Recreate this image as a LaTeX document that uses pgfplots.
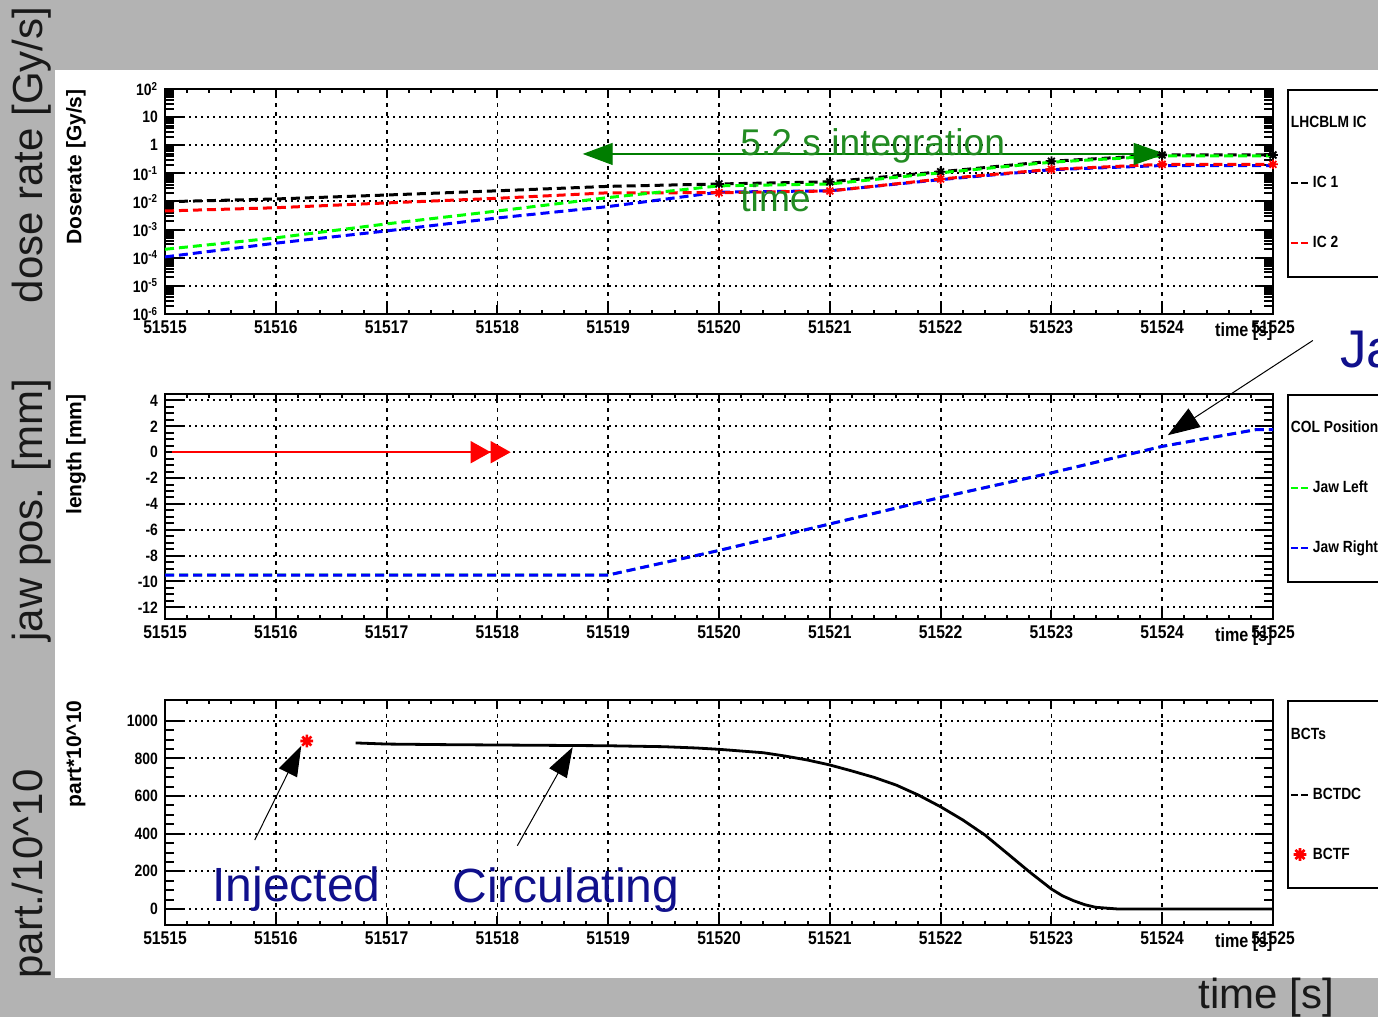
\documentclass[border=0pt]{standalone}
\usepackage{fontspec}
\setmainfont{Liberation Sans}
\newfontfamily\rootfont{Liberation Sans}[FakeStretch=0.85]
\usepackage{pgfplots}
\usepackage{pgfplotstable}
\pgfplotsset{compat=1.18}
\usetikzlibrary{arrows.meta}

\definecolor{slidegray}{RGB}{179,179,179}
\definecolor{slidetext}{RGB}{25,25,25}
\definecolor{annogreen}{RGB}{34,140,34}
\definecolor{arrowgreen}{RGB}{0,125,0}
\definecolor{annonavy}{RGB}{16,16,140}
\definecolor{rootgreen}{RGB}{0,255,0}
\definecolor{rootred}{RGB}{255,0,0}
\definecolor{rootblue}{RGB}{0,0,255}

\pgfdeclareplotmark{rootstar}{%
  \pgfpathmoveto{\pgfqpoint{0pt}{\pgfplotmarksize}}\pgfpathlineto{\pgfqpoint{0pt}{-\pgfplotmarksize}}%
  \pgfpathmoveto{\pgfqpoint{\pgfplotmarksize}{0pt}}\pgfpathlineto{\pgfqpoint{-\pgfplotmarksize}{0pt}}%
  \pgfpathmoveto{\pgfqpoint{0.707\pgfplotmarksize}{0.707\pgfplotmarksize}}\pgfpathlineto{\pgfqpoint{-0.707\pgfplotmarksize}{-0.707\pgfplotmarksize}}%
  \pgfpathmoveto{\pgfqpoint{-0.707\pgfplotmarksize}{0.707\pgfplotmarksize}}\pgfpathlineto{\pgfqpoint{0.707\pgfplotmarksize}{-0.707\pgfplotmarksize}}%
  \pgfusepathqstroke}

\pgfplotstableread{
t      ic1     ic2     gr        bl
51515  0.0098  0.0046  0.00020   0.000107
51516  0.0123  0.0060  0.00051   0.00033
51517  0.0170  0.0089  0.0016    0.00090
51518  0.0240  0.0130  0.0046    0.0026
51519  0.0345  0.0204  0.0138    0.0066
51520  0.042   0.0205  0.036     0.0215
51521  0.050   0.0236  0.042     0.024
51522  0.114   0.063   0.105     0.060
51523  0.27    0.139   0.25      0.135
51524  0.45    0.21    0.42      0.19
51525  0.45    0.21    0.42      0.19
}\doserate

\pgfplotstableread{
t        left   right
51515    -9.5   -9.5
51519    -9.5   -9.5
51520    -7.6   -7.6
51521    -5.55  -5.55
51522    -3.5   -3.5
51523    -1.6   -1.6
51524    0.45   0.45
51524.85 1.75   1.75
51525    1.75   1.75
}\jaw

\pgfplotstableread{
t        y
51516.72 882
51517.0  876
51517.5  873
51518.0  871
51518.5  869
51519.0  867
51519.5  862
51519.8  855
51520.0  848
51520.2  839
51520.4  830
51520.6  812
51520.8  791
51521.0  765
51521.2  733
51521.4  699
51521.6  658
51521.8  605
51522.0  543
51522.2  473
51522.4  393
51522.6  296
51522.8  198
51523.0  106
51523.1  70
51523.2  44
51523.3  23
51523.4  9
51523.6  0
51525.0  0
}\bctdc

\pgfplotstableread{
t        y
51516.28 892
}\bctf

\pgfplotsset{
  rootaxis/.style={
    scale only axis, width=554bp, height=112.5bp,
    xmin=51515, xmax=51525,
    xtick={51515,51516,51517,51518,51519,51520,51521,51522,51523,51524,51525},
    minor x tick num=4,
    scaled x ticks=false, scaled y ticks=false,
    xticklabel style={font=\rootfont\bfseries\fontsize{9.2bp}{10bp}\selectfont, /pgf/number format/.cd, fixed, precision=0, set thousands separator={}, assume math mode=true},
    yticklabel style={font=\rootfont\bfseries\fontsize{8.2bp}{9bp}\selectfont, /pgf/number format/.cd, set thousands separator={}, assume math mode=true},
    grid=major,
    major x grid style={black, line width=0.9bp, dash pattern=on 2bp off 2.5bp},
    major y grid style={black, line width=1bp, dash pattern=on 1bp off 2bp},
    axis line style={black, line width=1.3bp},
    tick style={black, line width=1bp},
    xtick style={/pgfplots/major tick length=4.5bp, /pgfplots/minor tick length=2.2bp},
    ytick style={/pgfplots/major tick length=9bp, /pgfplots/minor tick length=4.5bp},
    tick align=inside,
    clip=false,
    xlabel={time [s]},
    xlabel style={at={(axis description cs:1,0)}, anchor=north east, inner sep=0pt, yshift=-4bp, font=\rootfont\bfseries\fontsize{9.5bp}{11bp}\selectfont},
    ylabel style={at={(axis description cs:-0.0803,1)}, anchor=east, inner sep=0pt, font=\bfseries\fontsize{10.5bp}{12bp}\selectfont},
    legend style={at={(axis description cs:1.0126,1)}, anchor=north west, draw=black, line width=1bp, fill=white,
      font=\rootfont\bfseries\fontsize{8.1bp}{10bp}\selectfont,
      inner xsep=1bp, inner ysep=13bp, row sep=22.5bp, column sep=1.5bp,
      nodes={inner sep=0pt, text height=6bp, text depth=1.5bp}},
    legend cell align=left,
    legend image code/.code={\draw[mark repeat=2, mark phase=2, ##1] plot coordinates {(0bp,0bp) (4.5bp,0bp) (9bp,0bp)};},
  },
  legline/.style={line width=1bp, dash pattern=on 3.5bp off 1.5bp},
  dataline/.style={line width=1.5bp, dash pattern=on 4.5bp off 2.5bp},
}

\begin{document}
\begin{tikzpicture}
\path[use as bounding box] (0,0) rectangle (689bp,508.5bp);
\clip (0,0) rectangle (689bp,508.5bp);
\fill[slidegray] (0,0) rectangle (689bp,508.5bp);
\fill[white] (27.5bp,19.5bp) rectangle (689bp,473.5bp);

% ---------- top: dose rate ----------
\begin{axis}[rootaxis, at={(82.5bp,351.5bp)}, anchor=south west,
  ymode=log, ymin=1e-6, ymax=100,
  ytick={1e-6,1e-5,1e-4,1e-3,1e-2,1e-1,1,10,100},
  yticklabels={10\textsuperscript{-6},10\textsuperscript{-5},10\textsuperscript{-4},10\textsuperscript{-3},10\textsuperscript{-2},10\textsuperscript{-1},1,10,10\textsuperscript{2}},
  minor ytick={2e-6,3e-6,4e-6,5e-6,6e-6,7e-6,8e-6,9e-6,
    2e-5,3e-5,4e-5,5e-5,6e-5,7e-5,8e-5,9e-5,
    2e-4,3e-4,4e-4,5e-4,6e-4,7e-4,8e-4,9e-4,
    2e-3,3e-3,4e-3,5e-3,6e-3,7e-3,8e-3,9e-3,
    0.02,0.03,0.04,0.05,0.06,0.07,0.08,0.09,
    0.2,0.3,0.4,0.5,0.6,0.7,0.8,0.9,
    2,3,4,5,6,7,8,9,
    20,30,40,50,60,70,80,90},
  ylabel={Doserate [Gy/s]}]
\addplot[rootblue, dataline, forget plot] table[x=t,y=bl]{\doserate};
\addplot[rootred, dataline, forget plot] table[x=t,y=ic2]{\doserate};
\addplot[black, dataline, forget plot] table[x=t,y=ic1]{\doserate};
\addplot[rootgreen, dataline, forget plot] table[x=t,y=gr]{\doserate};
\addplot[only marks, black, mark=rootstar, mark size=2.4bp, line width=0.9bp, mark indices={6,7,8,9,10,11}, forget plot] table[x=t,y=ic1]{\doserate};
\addplot[only marks, rootred, mark=rootstar, mark size=2.4bp, line width=0.9bp, mark indices={6,7,8,9,10,11}, forget plot] table[x=t,y=ic2]{\doserate};
\draw[arrowgreen, line width=0.6bp, {Triangle[length=15bp,width=11bp]}-{Triangle[length=16bp,width=11bp]}] (axis cs:51518.77,0.49) -- (axis cs:51524.03,0.49);
\addlegendimage{empty legend}
\addlegendentry{\hspace*{-11bp}\makebox[60bp][l]{LHCBLM IC}}
\addlegendimage{black, legline}
\addlegendentry{IC 1}
\addlegendimage{rootred, legline}
\addlegendentry{IC 2}
\end{axis}

% ---------- middle: jaw positions ----------
\begin{axis}[rootaxis, at={(82.5bp,199bp)}, anchor=south west,
  ymin=-12.9, ymax=4.5, ytick={-12,-10,-8,-6,-4,-2,0,2,4}, minor y tick num=3,
  ylabel={length [mm]}]
\addplot[rootgreen, line width=1.3bp, dash pattern=on 4.5bp off 2.5bp, forget plot] table[x=t,y=left]{\jaw};
\addplot[rootblue, dataline, forget plot] table[x=t,y=right]{\jaw};
\draw[rootred, line width=0.8bp, -{Triangle[length=10bp,width=11bp]Triangle[length=10bp,width=11bp]}] (axis cs:51515.06,0) -- (axis cs:51518.12,0);
\draw[black, line width=0.5bp, -{Triangle[length=16bp,width=11bp]}] (axis cs:51525.36,8.64) -- (axis cs:51524.05,1.31);
\addlegendimage{empty legend}
\addlegendentry{\hspace*{-11bp}\makebox[60bp][l]{COL Positions}}
\addlegendimage{rootgreen, legline}
\addlegendentry{Jaw Left}
\addlegendimage{rootblue, legline}
\addlegendentry{Jaw Right}
\end{axis}

% ---------- bottom: beam intensity ----------
\begin{axis}[rootaxis, at={(82.5bp,46bp)}, anchor=south west,
  ymin=-85, ymax=1110, ytick={0,200,400,600,800,1000}, minor y tick num=3,
  ylabel={part*10\textasciicircum{}10}]
\addplot[black, line width=1.4bp, forget plot] table[x=t,y=y]{\bctdc};
\addplot[only marks, rootred, mark=rootstar, mark size=3.2bp, line width=1.3bp, forget plot] table[x=t,y=y]{\bctf};
\draw[black, line width=0.5bp, -{Triangle[length=15bp,width=10bp]}] (axis cs:51515.81,366) -- (axis cs:51516.23,866);
\draw[black, line width=0.5bp, -{Triangle[length=15bp,width=10bp]}] (axis cs:51518.18,336) -- (axis cs:51518.68,860);
\addlegendimage{empty legend}
\addlegendentry{\hspace*{-11bp}\makebox[60bp][l]{BCTs}}
\addlegendimage{black, legline}
\addlegendentry{BCTDC}
\addlegendimage{only marks, rootred, mark=rootstar, mark size=3.2bp, line width=1.3bp}
\addlegendentry{BCTF}
\end{axis}

% ---------- slide annotations ----------
\node[rotate=90, anchor=base, text=slidetext, font=\fontsize{21bp}{24bp}\selectfont] at (21.3bp,431bp) {dose rate [Gy/s]};
\node[rotate=90, anchor=base, text=slidetext, font=\fontsize{21bp}{24bp}\selectfont] at (21.3bp,253.5bp) {jaw pos. [mm]};
\node[rotate=90, anchor=base, text=slidetext, font=\fontsize{21bp}{24bp}\selectfont] at (21.3bp,71.5bp) {part./10\textasciicircum{}10};
\node[anchor=base west, inner sep=0pt, text=slidetext, font=\fontsize{21bp}{24bp}\selectfont] at (599bp,4.5bp) {time [s]};
\node[anchor=base west, inner sep=0pt, text=annonavy, font=\fontsize{26.5bp}{30bp}\selectfont] at (670bp,324.5bp) {Ja};
\node[anchor=base west, inner sep=0pt, text=annonavy, font=\fontsize{24bp}{28bp}\selectfont] at (106bp,57.5bp) {Injected};
\node[anchor=base west, inner sep=0pt, text=annonavy, font=\fontsize{24bp}{28bp}\selectfont] at (226bp,57bp) {Circulating};
\node[anchor=base west, inner sep=0pt, text=annogreen, font=\fontsize{18.6bp}{22bp}\selectfont] at (370bp,430.5bp) {5.2 s integration};
\node[anchor=base west, inner sep=0pt, text=annogreen, font=\fontsize{18.6bp}{22bp}\selectfont] at (370bp,402.6bp) {time};
\end{tikzpicture}
\end{document}
